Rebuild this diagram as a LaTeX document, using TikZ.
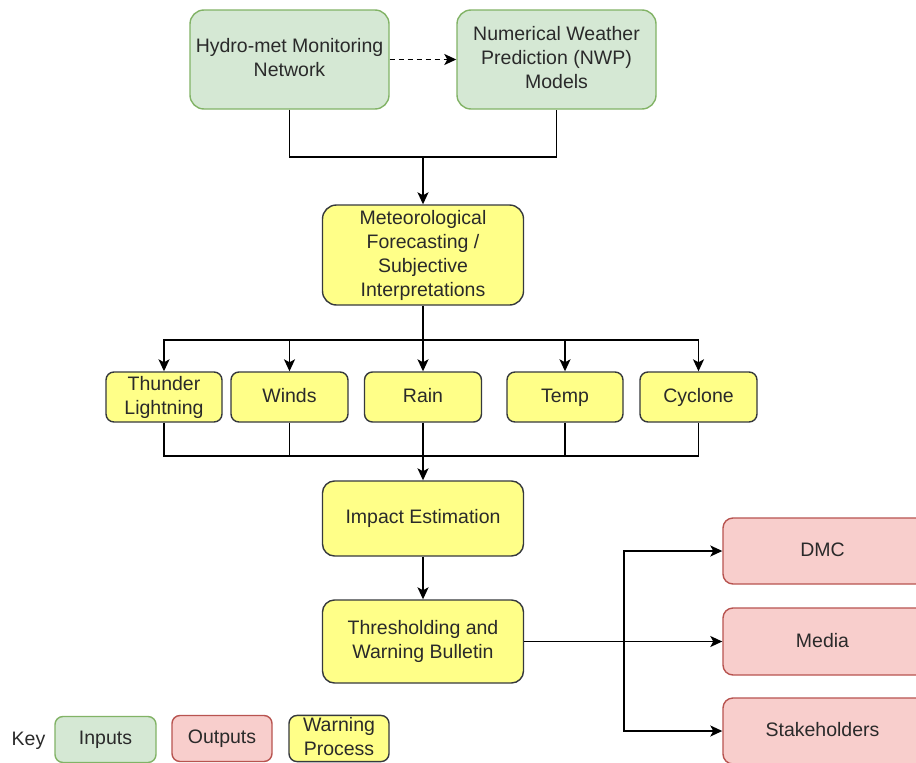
\documentclass[tikz,border=0pt]{standalone}
\usepackage{fontspec}
\setmainfont{Liberation Sans}
\usetikzlibrary{arrows.meta,calc}
\definecolor{ingreen}{HTML}{D5E8D4}
\definecolor{ingreenline}{HTML}{82B366}
\definecolor{outred}{HTML}{F8CECC}
\definecolor{outredline}{HTML}{B85450}
\definecolor{procyellow}{HTML}{FFFF88}
\definecolor{procline}{HTML}{36393D}
\definecolor{txt}{HTML}{2A2A2A}
\tikzset{
  base/.style={draw, line width=1.4pt, align=center, inner sep=2pt,
    font=\fontsize{19.5}{24}\selectfont, text=txt,
    execute at begin node=\rule{0pt}{15pt},
    execute at end node=\rule[-4pt]{0pt}{4pt}},
  inbox/.style={base, fill=ingreen, draw=ingreenline},
  outbox/.style={base, fill=outred, draw=outredline},
  procbox/.style={base, fill=procyellow, draw=procline},
  tip/.style={-{Stealth[length=12pt,width=11pt,inset=3pt]}},
  conn/.style={line width=1.7pt, black},
  arr/.style={conn, tip},
}
\begin{document}
\begin{tikzpicture}[x=1pt,y=-1pt]
\clip (0,0) rectangle (916,763);
\fill[white] (0,0) rectangle (916,763);

% inputs
\node[inbox, rounded corners=14pt, minimum width=199pt, minimum height=99pt] (hydro) at (289.5,59.5) {Hydro-met Monitoring\\Network};
\node[inbox, rounded corners=14pt, minimum width=199pt, minimum height=99pt] (nwp) at (556.5,59.5) {Numerical Weather\\Prediction (NWP)\\Models};

% forecasting
\node[procbox, rounded corners=14pt, minimum width=201pt, minimum height=100pt] (meteo) at (423,255) {Meteorological\\Forecasting /\\Subjective\\Interpretations};

% hazard parameters
\node[procbox, rounded corners=8pt, minimum width=116pt, minimum height=50pt] (thunder) at (164,397) {Thunder\\Lightning};
\node[procbox, rounded corners=8pt, minimum width=117pt, minimum height=50pt] (winds) at (289.5,397) {Winds};
\node[procbox, rounded corners=8pt, minimum width=117pt, minimum height=50pt] (rain) at (423,397) {Rain};
\node[procbox, rounded corners=8pt, minimum width=116pt, minimum height=50pt] (temp) at (565,397) {Temp};
\node[procbox, rounded corners=8pt, minimum width=117pt, minimum height=50pt] (cyclone) at (698.5,397) {Cyclone};

% impact and warning
\node[procbox, rounded corners=12pt, minimum width=201pt, minimum height=75pt] (impact) at (423,518.5) {Impact Estimation};
\node[procbox, rounded corners=12pt, minimum width=201pt, minimum height=83pt] (thresh) at (423,641.5) {Thresholding and\\Warning Bulletin};

% outputs (boxes run past the right edge)
\node[outbox, rounded corners=10pt, minimum width=236pt, minimum height=66pt] (dmc) at (841,551) {\hspace*{-37pt}DMC};
\node[outbox, rounded corners=10pt, minimum width=236pt, minimum height=67pt] (media) at (841,641.5) {\hspace*{-37pt}Media};
\node[outbox, rounded corners=10pt, minimum width=236pt, minimum height=66pt] (stake) at (841,731) {\hspace*{-37pt}Stakeholders};

% key
\node[base, draw=none, fill=none, anchor=west] (key) at (9,740) {Key};
\node[inbox, rounded corners=8pt, minimum width=101pt, minimum height=46pt] (kin) at (105.5,739.5) {Inputs};
\node[outbox, rounded corners=8pt, minimum width=100pt, minimum height=46pt] (kout) at (222,738.5) {Outputs};
\node[procbox, rounded corners=8pt, minimum width=100pt, minimum height=46pt] (kproc) at (339,738.5) {Warning\\Process};

% junction points
\coordinate (j1) at (423,157);
\coordinate (j2) at (423,340);
\coordinate (j3) at (423,456);
\coordinate (j4) at (624,641.5);

% connectors
\draw[conn, dash pattern=on 5pt off 4pt, tip] (hydro.east) -- (nwp.west);
\draw[conn] (hydro.south) |- (j1) -| (nwp.south);
\draw[arr] (j1) -- (meteo.north);

\draw[conn] (meteo.south) -- (j2);
\foreach \n in {thunder,winds,rain,temp,cyclone}
  \draw[arr] (j2) -| (\n.north);

\foreach \n in {thunder,winds,temp,cyclone}
  \draw[conn] (\n.south) |- (j3);
\draw[arr] (rain.south) -- (impact.north);

\draw[arr] (impact.south) -- (thresh.north);

\draw[arr] (thresh.east) -- (media.west);
\draw[arr] (j4) |- (dmc.west);
\draw[arr] (j4) |- (stake.west);
\end{tikzpicture}
\end{document}
